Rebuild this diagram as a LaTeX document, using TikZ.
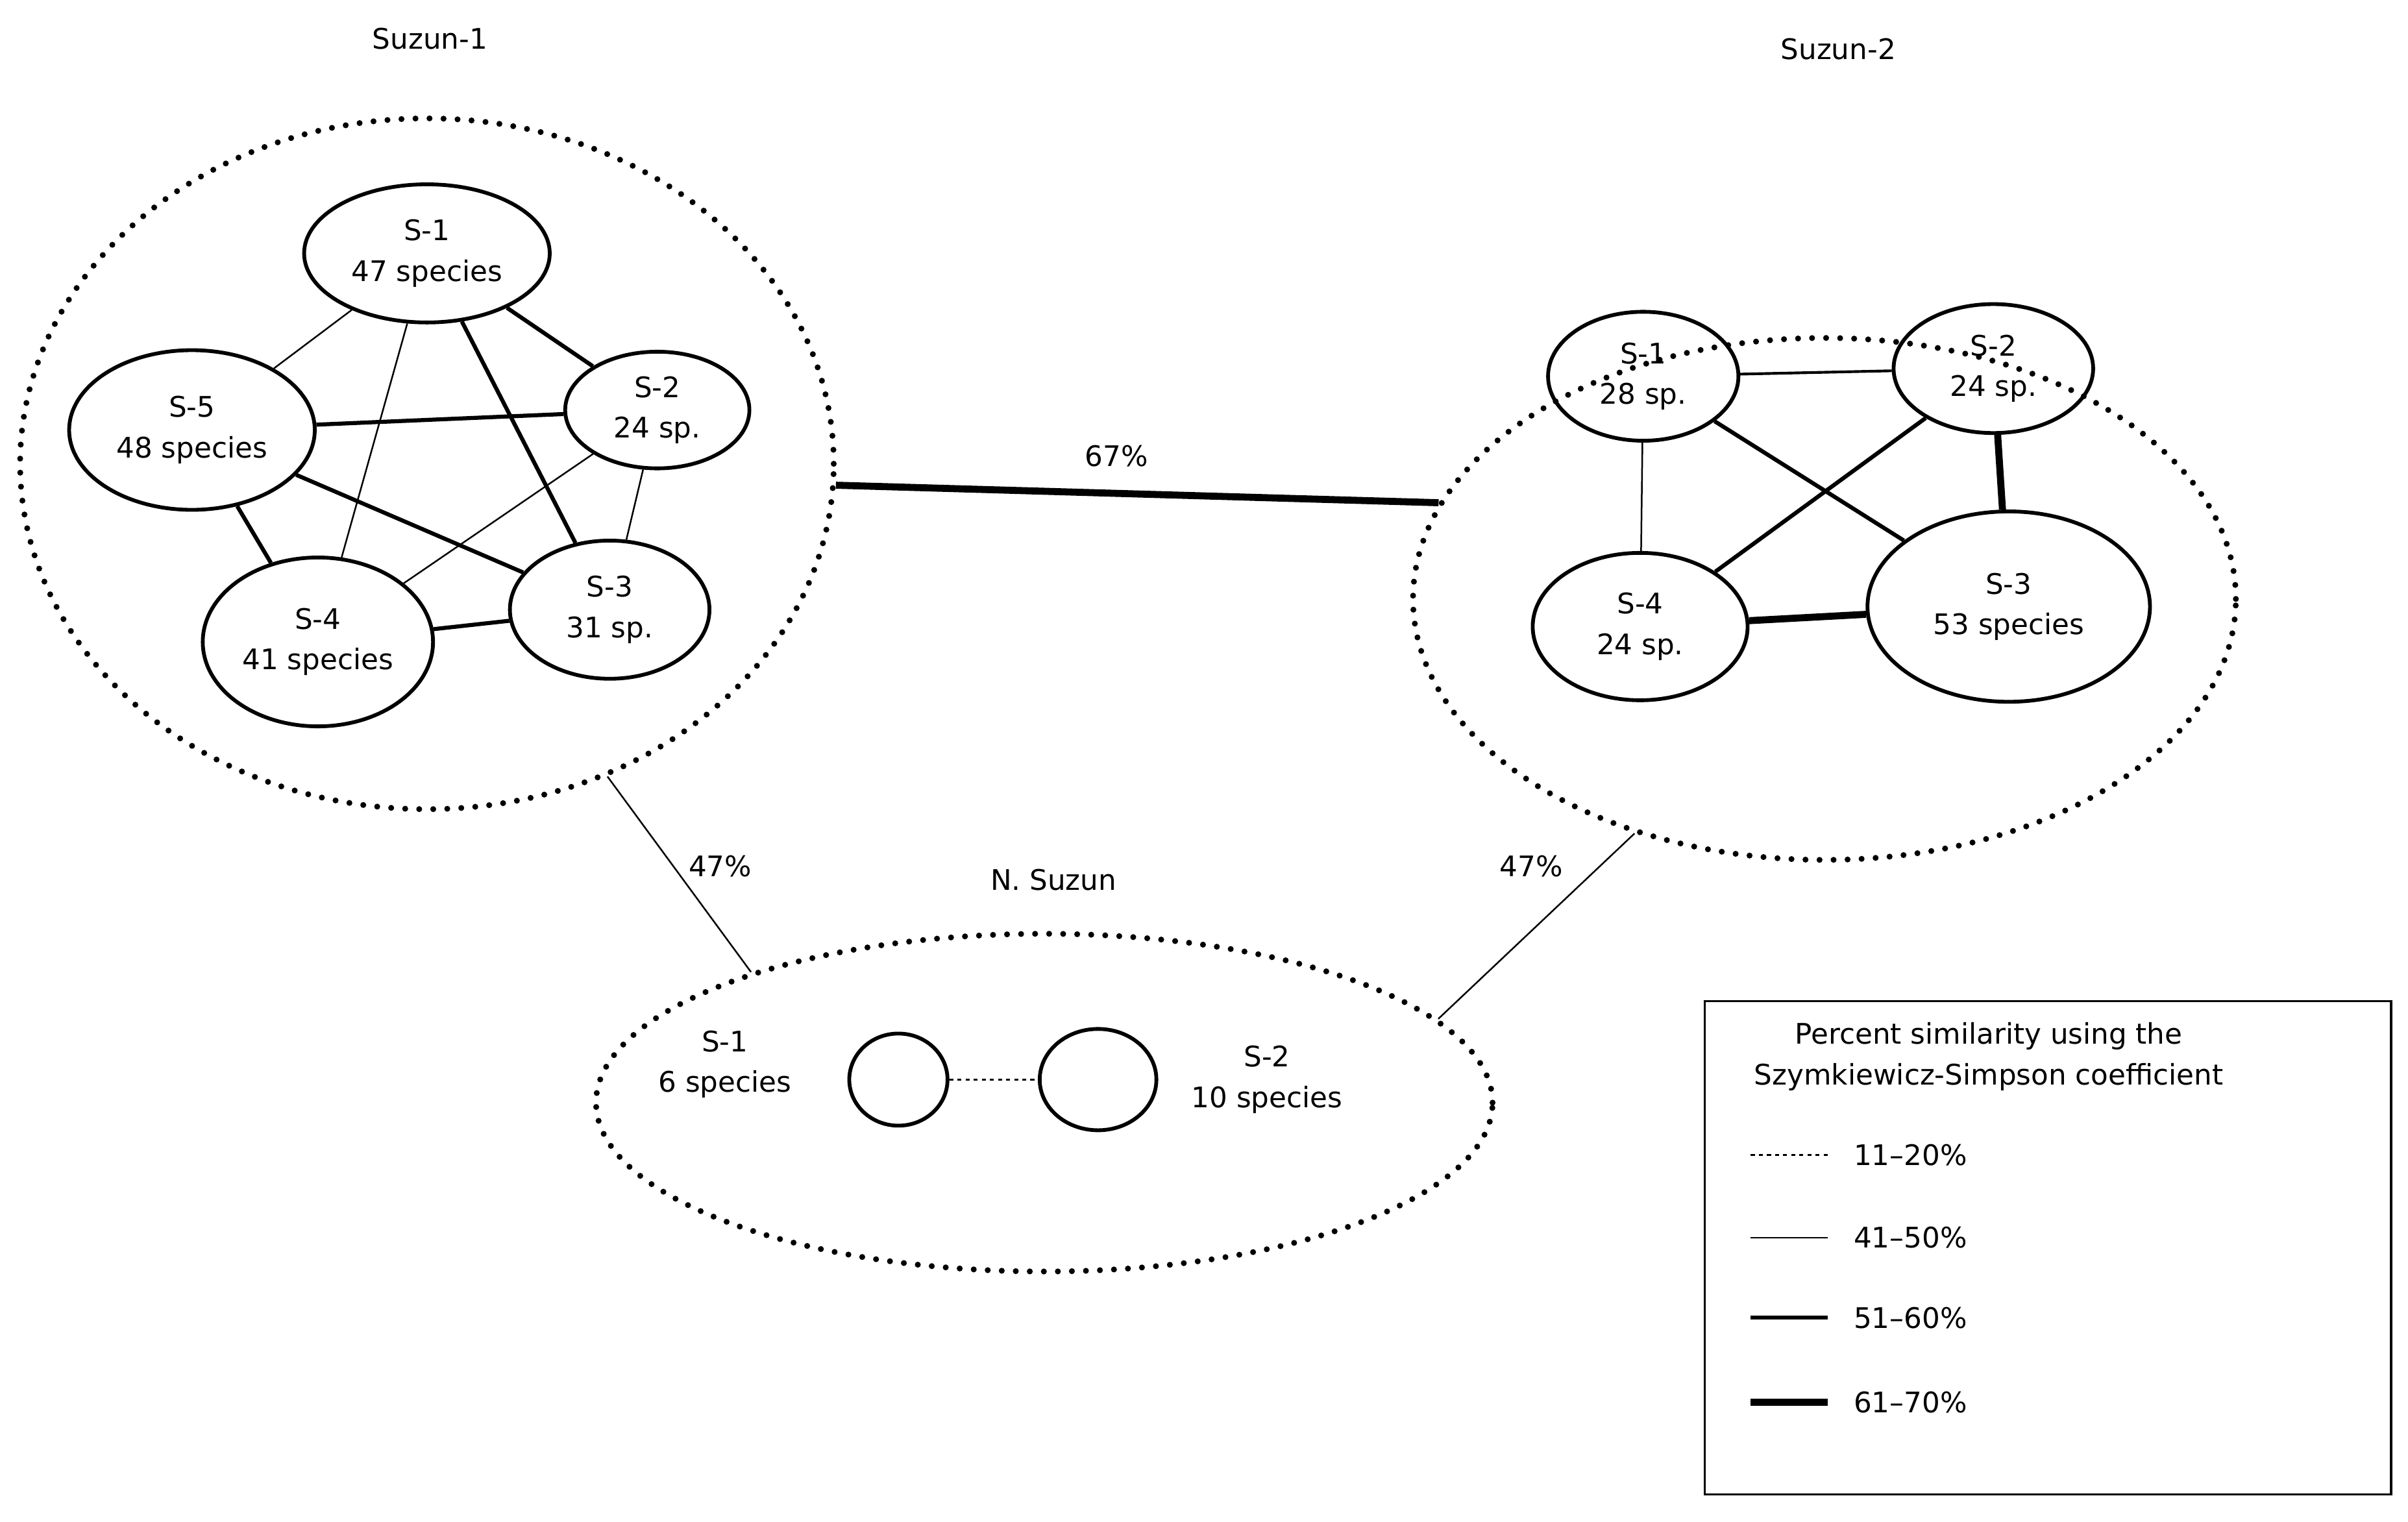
\documentclass[tikz,border=0pt]{standalone}
\usepackage{fontspec}
\setmainfont{DejaVu Sans}
\usetikzlibrary{shapes.geometric}
\begin{document}
\begin{tikzpicture}[x=0.02cm,y=-0.02cm,
  font=\fontsize{10.5}{15}\selectfont,
  el/.style 2 args={ellipse,draw,line width=1.4pt,inner sep=0pt,align=center,minimum width=#1*0.04cm,minimum height=#2*0.04cm},
  big/.style 2 args={ellipse,draw,line width=2.2pt,dash pattern=on 0pt off 5.2pt,line cap=round,inner sep=0pt,minimum width=#1*0.04cm,minimum height=#2*0.04cm},
  thin/.style={line width=0.6pt},
  med/.style={line width=1.5pt},
  thick/.style={line width=2.6pt},
  dot/.style={line width=0.6pt,dash pattern=on 1.5pt off 1.5pt},
  lbl/.style={inner sep=1pt}]
\useasboundingbox (0,0) rectangle (1568,991);
\fill[white] (0,0) rectangle (1568,991);
% Suzun-1
\node[lbl] (t1) at (280,25) {Suzun-1};
\node[big={265}{225}] (B1) at (278,302) {};
\node[el={80}{45}] (a1) at (278,165) {S-1\\47 species};
\node[el={60}{38}] (a2) at (428,267) {S-2\\24 sp.};
\node[el={80}{52}] (a5) at (125,280) {S-5\\48 species};
\node[el={75}{55}] (a4) at (207,418) {S-4\\41 species};
\node[el={65}{45}] (a3) at (397,397) {S-3\\31 sp.};
\draw[thin] (a1)--(a5); \draw[med] (a1)--(a2); \draw[thin] (a1)--(a4); \draw[med] (a1)--(a3);
\draw[med] (a5)--(a2); \draw[med] (a5)--(a3); \draw[med] (a5)--(a4);
\draw[thin] (a2)--(a4); \draw[thin] (a2)--(a3); \draw[med] (a4)--(a3);
% Suzun-2
\node[lbl] (t2) at (1197,32) {Suzun-2};
\node[big={268}{170}] (B2) at (1188,390) {};
\node[el={62}{42}] (b1) at (1070,245) {S-1\\28 sp.};
\node[el={65}{42}] (b2) at (1298,240) {S-2\\24 sp.};
\node[el={70}{48}] (b4) at (1068,408) {S-4\\24 sp.};
\node[el={92}{62}] (b3) at (1308,395) {S-3\\53 species};
\draw[line width=1pt] (b1)--(b2); \draw[med] (b1)--(b3); \draw[thin] (b1)--(b4);
\draw[med] (b2)--(b4); \draw[thick] (b2)--(b3); \draw[thick] (b4)--(b3);
% N. Suzun
\node[lbl] (t3) at (686,573) {N. Suzun};
\node[big={292}{110}] (B3) at (680,718) {};
\node[el={32}{30}] (c1) at (585,703) {};
\node[el={38}{33}] (c2) at (715,703) {};
\draw[dot] (c1)--(c2);
\node[lbl,align=center] (c1t) at (472,693) {S-1\\6 species};
\node[lbl,align=center] (c2t) at (825,703) {S-2\\10 species};
% links
\draw[thick] (B1.-3) -- (B2.166);
\node[lbl] (p67) at (727,297) {67\%};
\draw[thin] (B1.-60) -- (B3.156);
\node[lbl] (p47a) at (469,564) {47\%};
\draw[thin] (B2.-129) -- (B3.12);
\node[lbl] (p47b) at (997,564) {47\%};
% legend
\node[draw,line width=0.8pt,minimum width=447*0.02cm,minimum height=321*0.02cm,inner sep=0pt] (leg) at (1333.5,812.5) {};
\node[lbl,align=center] (lt) at (1295,688) {Percent similarity using the\\Szymkiewicz-Simpson coefficient};
\coordinate (l1a) at (1140,752); \coordinate (l1b) at (1190,752);
\coordinate (l2a) at (1140,806); \coordinate (l2b) at (1190,806);
\coordinate (l3a) at (1140,858); \coordinate (l3b) at (1190,858);
\coordinate (l4a) at (1140,913); \coordinate (l4b) at (1190,913);
\draw[dot] (l1a)--(l1b); \draw[thin] (l2a)--(l2b); \draw[med] (l3a)--(l3b); \draw[thick] (l4a)--(l4b);
\node[lbl,anchor=west] (g1) at (1205,752) {11–20\%};
\node[lbl,anchor=west] (g2) at (1205,806) {41–50\%};
\node[lbl,anchor=west] (g3) at (1205,858) {51–60\%};
\node[lbl,anchor=west] (g4) at (1205,913) {61–70\%};
\end{tikzpicture}
\end{document}
